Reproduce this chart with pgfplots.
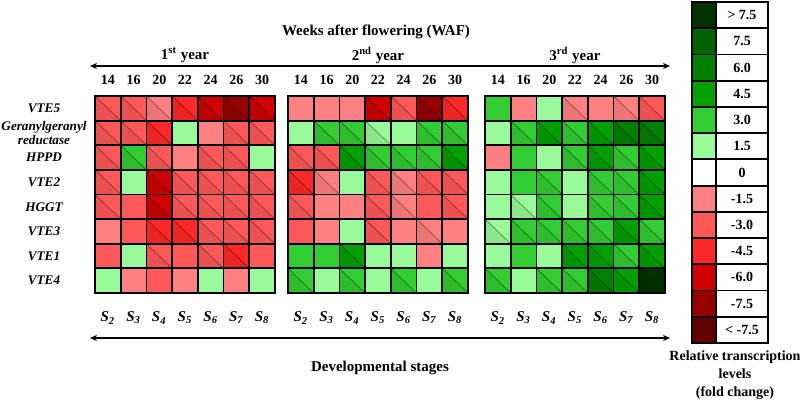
\documentclass[border=0pt]{standalone}
\usepackage{fontspec}
\setmainfont{Liberation Serif}
\usepackage{pgfplots}
\usepackage{pgfplotstable}
\pgfplotsset{compat=1.18}
\usetikzlibrary{arrows.meta}

% fold-change classes
\definecolor{Cn6}{RGB}{96,0,0}
\definecolor{Cn5}{RGB}{150,0,0}
\definecolor{Cn4}{RGB}{208,0,0}
\definecolor{Cn3}{RGB}{255,40,40}
\definecolor{Cn2}{RGB}{255,88,88}
\definecolor{Cn1}{RGB}{255,128,128}
\definecolor{Cz}{RGB}{255,255,255}
\definecolor{Cp1}{RGB}{152,250,152}
\definecolor{Cp2}{RGB}{50,205,50}
\definecolor{Cp3}{RGB}{0,160,0}
\definecolor{Cp4}{RGB}{0,128,0}
\definecolor{Cp5}{RGB}{0,100,0}
\definecolor{Cp6}{RGB}{0,50,0}

\pgfdeclareplotmark{cell}{\pgfpathrectanglecorners{\pgfqpoint{-6.43pt}{-6.16pt}}{\pgfqpoint{6.43pt}{6.16pt}}\pgfusepathqfillstroke}
\pgfdeclareplotmark{diag}{%
  \pgfpathmoveto{\pgfqpoint{-6.43pt}{6.16pt}}\pgfpathlineto{\pgfqpoint{6.43pt}{-6.16pt}}%
  \pgfpathlineto{\pgfqpoint{-6.43pt}{-6.16pt}}\pgfpathclose\pgfusepathqfill
  \pgfpathmoveto{\pgfqpoint{-6.43pt}{6.16pt}}\pgfpathlineto{\pgfqpoint{6.43pt}{-6.16pt}}\pgfusepathqstroke}
\pgfdeclareplotmark{legc}{\pgfpathrectanglecorners{\pgfqpoint{-6pt}{-6.56pt}}{\pgfqpoint{6pt}{6.56pt}}\pgfusepathqfillstroke}
\pgfdeclareplotmark{legl}{\pgfpathrectanglecorners{\pgfqpoint{-13pt}{-6.56pt}}{\pgfqpoint{13pt}{6.56pt}}\pgfusepathqfillstroke}

\tikzset{hc/.style={fill=#1, draw=black, line width=0.9pt}}
\pgfplotsset{
  heatcells/.style={scatter, only marks, mark=cell, scatter src=explicit symbolic,
    scatter/classes={n6={hc=Cn6}, n5={hc=Cn5}, n4={hc=Cn4}, n3={hc=Cn3}, n2={hc=Cn2}, n1={hc=Cn1},
      z={hc=Cz}, p1={hc=Cp1}, p2={hc=Cp2}, p3={hc=Cp3}, p4={hc=Cp4}, p5={hc=Cp5}, p6={hc=Cp6}}},
  sig/.style={only marks, mark=diag, restrict expr to domain={\thisrow{d}}{1:1},
    mark options={fill=black, fill opacity=0.08, draw=black, draw opacity=0.4, line width=0.35pt}},
  panel/.style={hide axis, scale only axis, width=90pt, height=98.5pt, anchor=north west,
    xmin=0.5, xmax=7.5, ymin=0.5, ymax=8.5, y dir=reverse, clip=false},
}

% x = week column, y = gene row, c = class, d = significance diagonal
\pgfplotstableread{
x y c d
1 1 n2 1
2 1 n2 1
3 1 n1 1
4 1 n3 1
5 1 n4 1
6 1 n5 1
7 1 n4 1
1 2 n2 1
2 2 n2 1
3 2 n3 1
4 2 p1 0
5 2 n1 0
6 2 n2 1
7 2 n2 1
1 3 n2 1
2 3 p2 1
3 3 n2 1
4 3 n1 0
5 3 n2 1
6 3 n2 1
7 3 p1 0
1 4 n2 1
2 4 p1 0
3 4 n4 1
4 4 n2 1
5 4 n2 1
6 4 n2 1
7 4 n2 1
1 5 n2 1
2 5 n2 0
3 5 n4 1
4 5 n2 1
5 5 n2 1
6 5 n2 1
7 5 n2 1
1 6 n1 0
2 6 n2 0
3 6 n3 1
4 6 n3 1
5 6 n2 1
6 6 n2 1
7 6 n2 1
1 7 n2 0
2 7 p1 0
3 7 n2 1
4 7 n2 0
5 7 n2 1
6 7 n3 1
7 7 n2 0
1 8 p1 0
2 8 n1 0
3 8 n2 0
4 8 n1 0
5 8 p1 0
6 8 n1 0
7 8 p1 0
}\tabA

\pgfplotstableread{
x y c d
1 1 n1 0
2 1 n1 0
3 1 n1 0
4 1 n4 1
5 1 n2 1
6 1 n5 1
7 1 n3 1
1 2 p1 0
2 2 p2 1
3 2 p2 1
4 2 p1 1
5 2 p1 0
6 2 p2 1
7 2 p2 1
1 3 n2 1
2 3 n2 1
3 3 p3 1
4 3 p2 1
5 3 p2 1
6 3 p2 1
7 3 p3 1
1 4 n3 1
2 4 n1 1
3 4 p1 0
4 4 n2 1
5 4 n1 1
6 4 n2 1
7 4 n2 1
1 5 n2 1
2 5 n1 0
3 5 n1 0
4 5 n2 1
5 5 n1 1
6 5 n2 0
7 5 n2 1
1 6 n2 0
2 6 n1 0
3 6 p1 0
4 6 n2 1
5 6 n1 0
6 6 n1 1
7 6 n1 0
1 7 p2 0
2 7 p2 0
3 7 p3 1
4 7 p1 0
5 7 p1 0
6 7 n1 0
7 7 p1 0
1 8 p2 1
2 8 p1 0
3 8 p2 1
4 8 p1 0
5 8 p2 1
6 8 p1 0
7 8 p2 1
}\tabB

\pgfplotstableread{
x y c d
1 1 p2 0
2 1 n1 0
3 1 p1 0
4 1 n1 1
5 1 n1 0
6 1 n1 1
7 1 n2 1
1 2 p1 0
2 2 p2 1
3 2 p3 1
4 2 p2 1
5 2 p3 1
6 2 p4 1
7 2 p4 1
1 3 n1 0
2 3 p2 0
3 3 p1 0
4 3 p2 1
5 3 p3 1
6 3 p2 1
7 3 p3 1
1 4 p1 0
2 4 p2 0
3 4 p2 1
4 4 p1 0
5 4 p2 1
6 4 p2 1
7 4 p3 1
1 5 p1 0
2 5 p1 1
3 5 p2 1
4 5 p1 0
5 5 p2 1
6 5 p2 1
7 5 p3 1
1 6 p1 1
2 6 p2 1
3 6 p2 1
4 6 p2 1
5 6 p2 1
6 6 p3 1
7 6 p2 1
1 7 p1 0
2 7 p2 0
3 7 p1 0
4 7 p3 1
5 7 p3 1
6 7 p2 1
7 7 p3 1
1 8 p2 1
2 8 p1 0
3 8 p2 1
4 8 p2 1
5 8 p4 1
6 8 p3 1
7 8 p6 1
}\tabC

\pgfplotstableread{
y c lab
0.5 p6 {> 7.5}
1.5 p5 7.5
2.5 p4 6.0
3.5 p3 4.5
4.5 p2 3.0
5.5 p1 1.5
6.5 z 0
7.5 n1 -1.5
8.5 n2 -3.0
9.5 n3 -4.5
10.5 n4 -6.0
11.5 n5 -7.5
12.5 n6 {< -7.5}
}\tabL

\begin{document}
\begin{tikzpicture}
\useasboundingbox (0,0) rectangle (400pt,207pt);

\begin{axis}[panel, at={(47.5pt,159pt)}]
  \addplot[heatcells] table[x=x, y=y, meta=c] {\tabA};
  \addplot[sig] table[x=x, y=y] {\tabA};
\end{axis}
\begin{axis}[panel, at={(144pt,159pt)}]
  \addplot[heatcells] table[x=x, y=y, meta=c] {\tabB};
  \addplot[sig] table[x=x, y=y] {\tabB};
\end{axis}
\begin{axis}[panel, at={(242.5pt,159pt)}]
  \addplot[heatcells] table[x=x, y=y, meta=c] {\tabC};
  \addplot[sig] table[x=x, y=y] {\tabC};
\end{axis}

% colour key
\begin{axis}[hide axis, scale only axis, width=38pt, height=170.5pt, at={(346pt,206pt)},
    anchor=north west, xmin=0, xmax=76, ymin=0, ymax=13, y dir=reverse, clip=false]
  \addplot[heatcells, mark=legc] table[x expr=12, y=y, meta=c] {\tabL};
  \addplot[only marks, mark=legl, mark options={fill=white, draw=black, line width=0.9pt},
    point meta=explicit symbolic, nodes near coords,
    every node near coord/.append style={anchor=center, font=\bfseries\fontsize{7}{8}\selectfont}]
    table[x expr=50, y=y, meta=lab] {\tabL};
\end{axis}

% labels and arrows
\node[font=\bfseries\fontsize{7.5}{9}\selectfont] at (188pt,191pt) {Weeks after flowering (WAF)};
\foreach \xc/\yr in {92.5/1\textsuperscript{st}, 189/2\textsuperscript{nd}, 287.5/3\textsuperscript{rd}}
  \node[font=\bfseries\fontsize{7.5}{9}\selectfont] at (\xc pt,179.5pt) {\yr\ year};
\draw[<->, >={Stealth[length=3.5pt,width=3pt]}, line width=0.7pt] (45pt,174pt) -- (335pt,174pt);
\draw[<->, >={Stealth[length=3.5pt,width=3pt]}, line width=0.7pt] (45pt,38pt) -- (335pt,38pt);
\foreach \xo in {47.5,144,242.5}{
  \foreach \w [count=\i] in {14,16,20,22,24,26,30}
    \node[font=\bfseries\fontsize{7}{8}\selectfont] at (\xo pt+\i*12.857pt-6.43pt,167pt) {\w};
  \foreach \s [count=\i] in {2,...,8}
    \node[font=\bfseries\itshape\fontsize{7.5}{8}\selectfont] at (\xo pt+\i*12.857pt-6.43pt,48pt) {S\textsubscript{\s}};
}
\foreach \g [count=\i] in {VTE5,{Geranylgeranyl\\reductase},HPPD,VTE2,HGGT,VTE3,VTE1,VTE4}
  \node[align=center, font=\bfseries\itshape\fontsize{6.6}{7.3}\selectfont] at (22pt,159pt-\i*12.3125pt+6.156pt) {\g};
\node[font=\bfseries\fontsize{7.5}{9}\selectfont] at (190pt,23pt) {Developmental stages};
\node[align=center, font=\bfseries\fontsize{7}{9}\selectfont] at (367.5pt,19.5pt)
  {Relative transcription\\levels\\(fold change)};
\end{tikzpicture}
\end{document}
